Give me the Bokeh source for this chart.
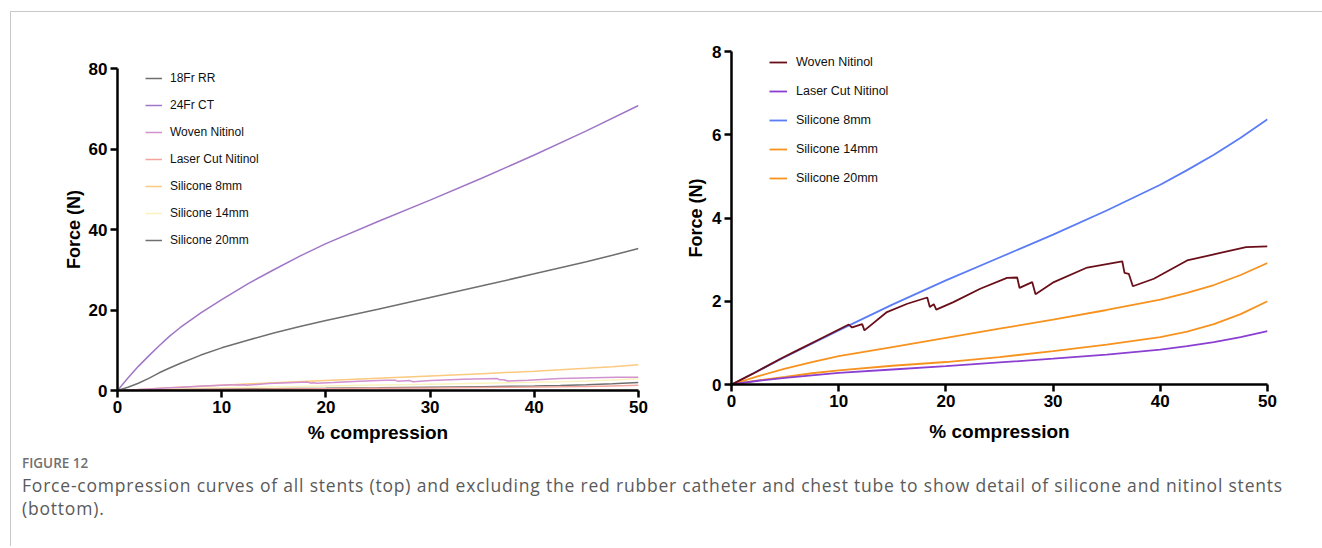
from bokeh.plotting import figure
from bokeh.models import Range1d, FixedTicker, Legend, LegendItem, Div
from bokeh.layouts import column, row
from bokeh.embed import file_html
from bokeh.resources import INLINE

# ---------------- data ----------------
x_ticks = [0, 10, 20, 30, 40, 50]
y_ticks_all = [0, 20, 40, 60, 80]
y_ticks_detail = [0, 2, 4, 6, 8]

rr_x = [0, 1, 2, 3, 4, 5, 6, 8, 10, 12.5, 15, 17.5, 20, 25, 30, 35, 40, 45, 47.5, 50]
rr_y = [0, 0.8, 1.8, 3.0, 4.4, 5.6, 6.7, 8.8, 10.6, 12.5, 14.3, 15.9, 17.4, 20.2, 23.1, 26.0, 29.0, 32.0, 33.6, 35.3]

ct_x = [0, 1, 2, 3, 4, 5, 6, 8, 10, 12.5, 15, 17.5, 20, 25, 30, 35, 40, 45, 50]
ct_y = [0, 3.1, 6.0, 8.6, 11.1, 13.5, 15.6, 19.3, 22.6, 26.5, 30.0, 33.4, 36.5, 42.0, 47.3, 52.8, 58.5, 64.5, 70.8]

woven_x = [0, 1, 2, 3, 4.57, 6.13, 8.3, 10.94, 11.1, 11.26, 12.19, 12.4, 14.5, 16.4, 18.26, 18.5, 18.87,
           19.1, 20.7, 23.2, 25.7, 26.65, 26.87, 28.05, 28.36, 30.07, 33.18, 36.45, 36.66, 37.06, 37.44,
           39.4, 42.5, 45.6, 48, 50]
woven_y = [0, 0.13, 0.26, 0.4, 0.62, 0.82, 1.10, 1.44, 1.40, 1.37, 1.45, 1.30, 1.74, 1.94, 2.09, 1.86, 1.93,
           1.80, 1.98, 2.30, 2.56, 2.57, 2.32, 2.46, 2.17, 2.46, 2.81, 2.96, 2.68, 2.66, 2.36,
           2.54, 2.98, 3.16, 3.30, 3.32]

sil_x = [0, 2.5, 5, 7.5, 10, 15, 20, 25, 30, 35, 40, 42.5, 45, 47.5, 50]
laser_y = [0, 0.09, 0.16, 0.22, 0.28, 0.36, 0.44, 0.53, 0.62, 0.72, 0.84, 0.92, 1.02, 1.14, 1.28]
sil8_y = [0, 0.33, 0.66, 0.98, 1.30, 1.92, 2.50, 3.05, 3.60, 4.18, 4.80, 5.15, 5.52, 5.93, 6.37]
sil14_y = [0, 0.20, 0.38, 0.54, 0.68, 0.90, 1.12, 1.34, 1.56, 1.79, 2.04, 2.20, 2.39, 2.63, 2.92]
sil20_y = [0, 0.10, 0.18, 0.27, 0.34, 0.45, 0.54, 0.66, 0.80, 0.96, 1.14, 1.27, 1.45, 1.69, 2.00]

FONT = "Liberation Sans"


def style_axes(p, yticks):
    for ax in (p.xaxis[0], p.yaxis[0]):
        ax.axis_line_width = 2.5
        ax.axis_line_color = "black"
        ax.major_tick_line_width = 2.5
        ax.major_tick_out = 7
        ax.major_tick_in = 0
        ax.minor_tick_line_color = None
        ax.major_label_text_font = FONT
        ax.major_label_text_font_style = "bold"
        ax.major_label_text_font_size = "17px"
        ax.major_label_text_color = "black"
        ax.major_label_standoff = 3
        ax.axis_label_text_font = FONT
        ax.axis_label_text_font_style = "bold"
        ax.axis_label_text_color = "black"
    p.xaxis[0].ticker = FixedTicker(ticks=x_ticks)
    p.yaxis[0].ticker = FixedTicker(ticks=yticks)
    p.xaxis[0].axis_label = "% compression"
    p.yaxis[0].axis_label = "Force (N)"
    p.xaxis[0].axis_label_text_font_size = "19px"
    p.yaxis[0].axis_label_text_font_size = "18px"
    p.xgrid.grid_line_color = None
    p.ygrid.grid_line_color = None
    p.outline_line_color = None


# ---------------- left: all stents ----------------
p1 = figure(width=639, height=438, x_range=Range1d(0, 50), y_range=Range1d(0, 80),
            output_backend="svg", toolbar_location=None,
            min_border_left=106, min_border_right=12, min_border_top=56, min_border_bottom=60)
style_axes(p1, y_ticks_all)
p1.yaxis[0].axis_label_standoff = 2
p1.xaxis[0].axis_label_standoff = 6

lw = 1.5
r_rr = p1.line(rr_x, rr_y, line_color="#6f6f6f", line_width=lw)
r_ct = p1.line(ct_x, ct_y, line_color="#a076c6", line_width=lw)
r_sil8 = p1.line(sil_x, sil8_y, line_color="#fbc97f", line_width=lw)
r_sil14 = p1.line(sil_x, sil14_y, line_color="#fbf3bf", line_width=lw)
r_sil20 = p1.line(sil_x, sil20_y, line_color="#6f6f6f", line_width=lw)
r_woven = p1.line(woven_x, woven_y, line_color="#d291cf", line_width=lw)
r_laser = p1.line(sil_x, laser_y, line_color="#f3a49c", line_width=lw)

leg1 = Legend(items=[
    LegendItem(label="18Fr RR", renderers=[r_rr]),
    LegendItem(label="24Fr CT", renderers=[r_ct]),
    LegendItem(label="Woven Nitinol", renderers=[r_woven]),
    LegendItem(label="Laser Cut Nitinol", renderers=[r_laser]),
    LegendItem(label="Silicone 8mm", renderers=[r_sil8]),
    LegendItem(label="Silicone 14mm", renderers=[r_sil14]),
    LegendItem(label="Silicone 20mm", renderers=[r_sil20]),
], location=(28, 140), padding=0, margin=0, spacing=7, label_height=20, glyph_height=20,
    glyph_width=17, label_standoff=8, label_text_font=FONT, label_text_font_size="12px",
    label_text_color="#111111", background_fill_alpha=0, border_line_alpha=0)
p1.add_layout(leg1)

# ---------------- right: detail ----------------
p2 = figure(width=647, height=438, x_range=Range1d(0, 50), y_range=Range1d(0, 8),
            output_backend="svg", toolbar_location=None,
            min_border_left=81, min_border_right=30, min_border_top=39, min_border_bottom=66)
style_axes(p2, y_ticks_detail)
p2.yaxis[0].axis_label_standoff = 3
p2.xaxis[0].axis_label_standoff = 11

lw2 = 1.8
q_sil20 = p2.line(sil_x, sil20_y, line_color="#f7921e", line_width=lw2)
q_sil14 = p2.line(sil_x, sil14_y, line_color="#f7921e", line_width=lw2)
q_laser = p2.line(sil_x, laser_y, line_color="#8b3fd2", line_width=lw2)
q_sil8 = p2.line(sil_x, sil8_y, line_color="#5b7cf7", line_width=lw2)
q_woven = p2.line(woven_x, woven_y, line_color="#6a0f1a", line_width=lw2)

leg2 = Legend(items=[
    LegendItem(label="Woven Nitinol", renderers=[q_woven]),
    LegendItem(label="Laser Cut Nitinol", renderers=[q_laser]),
    LegendItem(label="Silicone 8mm", renderers=[q_sil8]),
    LegendItem(label="Silicone 14mm", renderers=[q_sil14]),
    LegendItem(label="Silicone 20mm", renderers=[q_sil20]),
], location=(38, 196), padding=0, margin=0, spacing=9, label_height=20, glyph_height=20,
    glyph_width=18, label_standoff=9, label_text_font=FONT, label_text_font_size="12.5px",
    label_text_color="#111111", background_fill_alpha=0, border_line_alpha=0)
p2.add_layout(leg2)

caption = Div(width=1303, height=86, text=(
    "<div style=\"font-family:'Open Sans',sans-serif;padding-left:6px;white-space:nowrap;\">"
    "<div style='font-size:13.5px;font-weight:600;color:#707070;line-height:16px;margin-top:0px;'>FIGURE 12</div>"
    "<div style='font-size:17.5px;color:#5a5a5a;line-height:23px;margin-top:3px;letter-spacing:0.8px;'>"
    "Force-compression curves of all stents (top) and excluding the red rubber catheter and chest tube "
    "to show detail of silicone and nitinol stents<br>(bottom).</div></div>"))

layout = column(row(column(p1), column(p2)), caption,
                styles={"border-top": "1px solid #c8c8c8", "border-left": "1px solid #c8c8c8",
                        "margin-left": "10px", "margin-top": "11px"})

open("out.html", "w").write(file_html(layout, INLINE))
